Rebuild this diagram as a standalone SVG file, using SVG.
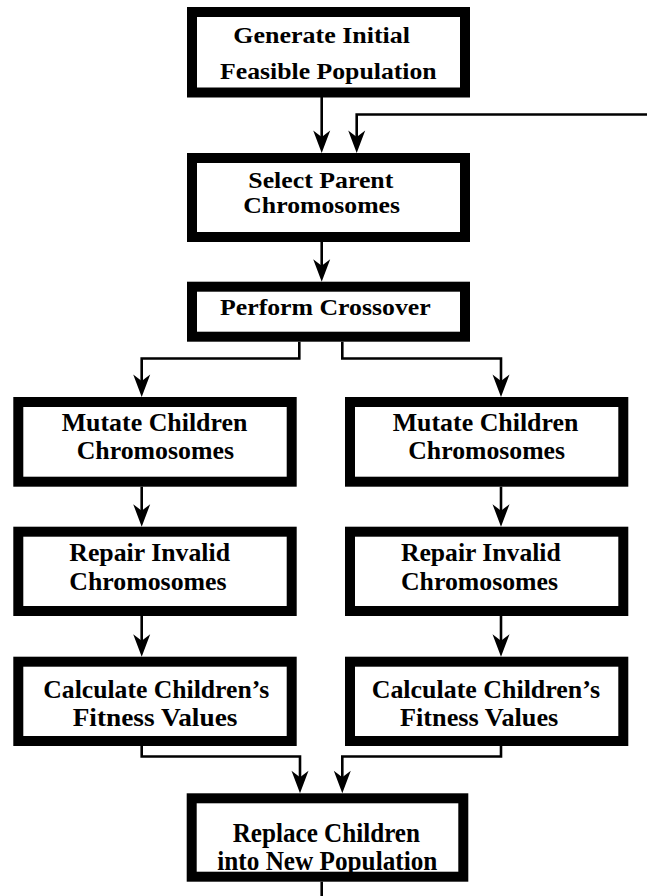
<svg xmlns="http://www.w3.org/2000/svg" width="647" height="896" viewBox="0 0 647 896">
  <style>
    .box { fill: #ffffff; stroke: #000000; stroke-width: 10; }
    .lbl { font-family: "Liberation Serif", "Times New Roman", serif; font-weight: bold; fill: #000000; }
    .edge { fill: none; stroke: #000000; stroke-width: 2.6; }
  </style>
  <defs>
    <marker id="arrow" markerUnits="userSpaceOnUse" viewBox="-23 -9 24 18" markerWidth="24" markerHeight="18" refX="-10" refY="0" orient="auto">
      <path d="M0,0 L-22.5,-8.5 L-16,0 L-22.5,8.5 Z" fill="#000000"/>
    </marker>
  </defs>

  <rect width="647" height="896" fill="#ffffff"/>

  <!-- connectors -->
  <g id="connectors">
    <path class="edge" d="M321.7,97 V143" marker-end="url(#arrow)"/>
    <path class="edge" d="M647,114.5 H356.7 V143" marker-end="url(#arrow)"/>
    <path class="edge" d="M321.7,242 V271.7" marker-end="url(#arrow)"/>
    <path class="edge" d="M299.3,341.7 V358.5 H141.7 V387" marker-end="url(#arrow)"/>
    <path class="edge" d="M342.3,341.7 V358.5 H501 V387" marker-end="url(#arrow)"/>
    <path class="edge" d="M141.7,486.7 V516.7" marker-end="url(#arrow)"/>
    <path class="edge" d="M501,486.7 V516.7" marker-end="url(#arrow)"/>
    <path class="edge" d="M141.7,616 V646.7" marker-end="url(#arrow)"/>
    <path class="edge" d="M501,616 V646.7" marker-end="url(#arrow)"/>
    <path class="edge" d="M141.7,746 V756.5 H300 V783.3" marker-end="url(#arrow)"/>
    <path class="edge" d="M501,746 V756.5 H342.3 V783.3" marker-end="url(#arrow)"/>
    <path class="edge" d="M321.7,881.7 V896"/>
  </g>

  <g id="generate">
    <rect class="box" x="192" y="12" width="273" height="80.5"/>
    <text class="lbl" x="233.3" y="43.3" font-size="23" textLength="176.7" lengthAdjust="spacingAndGlyphs">Generate Initial</text>
    <text class="lbl" x="220" y="79" font-size="23" textLength="216.7" lengthAdjust="spacingAndGlyphs">Feasible Population</text>
  </g>

  <g id="select">
    <rect class="box" x="192" y="158" width="273" height="79"/>
    <text class="lbl" x="248.3" y="187.7" font-size="24" textLength="145" lengthAdjust="spacingAndGlyphs">Select Parent</text>
    <text class="lbl" x="243.3" y="213.3" font-size="24" textLength="156.7" lengthAdjust="spacingAndGlyphs">Chromosomes</text>
  </g>

  <g id="crossover">
    <rect class="box" x="192" y="286.7" width="273" height="50"/>
    <text class="lbl" x="220" y="315" font-size="24" textLength="210.7" lengthAdjust="spacingAndGlyphs">Perform Crossover</text>
  </g>

  <g id="mutate-left">
    <rect class="box" x="18.3" y="402" width="273.4" height="79.7"/>
    <text class="lbl" x="61.7" y="430.7" font-size="26" textLength="185.7" lengthAdjust="spacingAndGlyphs">Mutate Children</text>
    <text class="lbl" x="76.7" y="459.3" font-size="26" textLength="157.3" lengthAdjust="spacingAndGlyphs">Chromosomes</text>
  </g>

  <g id="mutate-right">
    <rect class="box" x="350" y="402" width="273.3" height="79.7"/>
    <text class="lbl" x="392.7" y="430.7" font-size="26" textLength="185.7" lengthAdjust="spacingAndGlyphs">Mutate Children</text>
    <text class="lbl" x="408.3" y="459.3" font-size="26" textLength="156.7" lengthAdjust="spacingAndGlyphs">Chromosomes</text>
  </g>

  <g id="repair-left">
    <rect class="box" x="18.3" y="531.7" width="273.4" height="79.3"/>
    <text class="lbl" x="69.3" y="561" font-size="25.5" textLength="160.7" lengthAdjust="spacingAndGlyphs">Repair Invalid</text>
    <text class="lbl" x="69.3" y="590" font-size="25.5" textLength="157.3" lengthAdjust="spacingAndGlyphs">Chromosomes</text>
  </g>

  <g id="repair-right">
    <rect class="box" x="350" y="531.7" width="273.3" height="79.3"/>
    <text class="lbl" x="401" y="561" font-size="25.5" textLength="159.7" lengthAdjust="spacingAndGlyphs">Repair Invalid</text>
    <text class="lbl" x="401" y="590" font-size="25.5" textLength="157" lengthAdjust="spacingAndGlyphs">Chromosomes</text>
  </g>

  <g id="fitness-left">
    <rect class="box" x="18.3" y="661.7" width="273.4" height="79.3"/>
    <text class="lbl" x="43.3" y="698" font-size="24.5" textLength="226" lengthAdjust="spacingAndGlyphs">Calculate Children’s</text>
    <text class="lbl" x="72.7" y="726" font-size="24.5" textLength="164.7" lengthAdjust="spacingAndGlyphs">Fitness Values</text>
  </g>

  <g id="fitness-right">
    <rect class="box" x="350" y="661.7" width="273.3" height="79.3"/>
    <text class="lbl" x="371.7" y="698" font-size="24.5" textLength="228.3" lengthAdjust="spacingAndGlyphs">Calculate Children’s</text>
    <text class="lbl" x="400" y="726" font-size="24.5" textLength="158.3" lengthAdjust="spacingAndGlyphs">Fitness Values</text>
  </g>

  <g id="replace">
    <rect class="box" x="191.7" y="798.3" width="271.6" height="78.4"/>
    <text class="lbl" x="232.7" y="841.5" font-size="27" textLength="187.3" lengthAdjust="spacingAndGlyphs">Replace Children</text>
    <text class="lbl" x="217.3" y="869.5" font-size="27" textLength="220" lengthAdjust="spacingAndGlyphs">into New Population</text>
  </g>
</svg>
